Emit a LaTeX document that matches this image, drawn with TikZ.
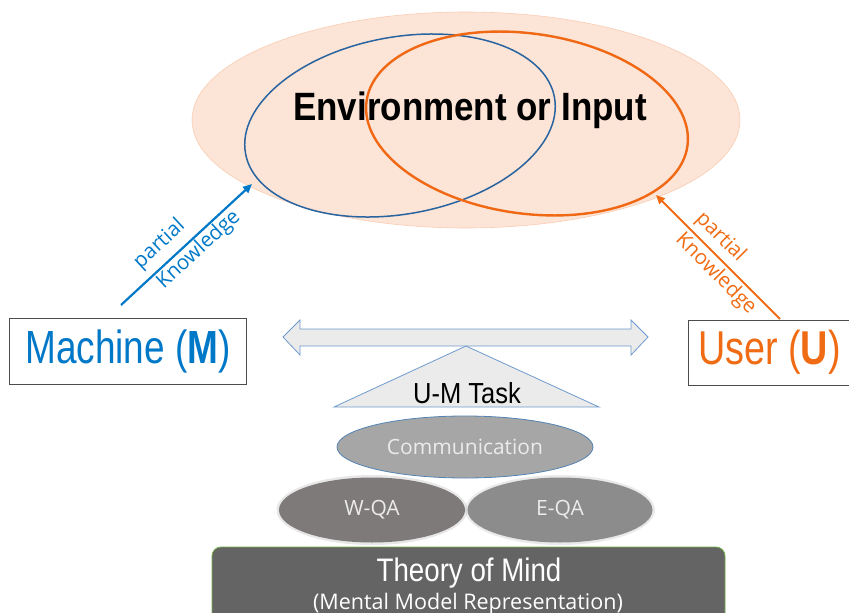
\documentclass[tikz,border=0pt]{standalone}
\usepackage{fontspec}
\setmainfont{Liberation Sans}
\newfontfamily\envfont[FakeStretch=0.885]{Liberation Sans}
\newfontfamily\actorfont[FakeStretch=0.795]{Liberation Sans}
\newfontfamily\taskfont[FakeStretch=0.88]{Liberation Sans}
\newfontfamily\tomfont[FakeStretch=0.85]{Liberation Sans}
\newfontfamily\segfont{Open Sans}
\usetikzlibrary{arrows.meta,shapes.geometric}
\definecolor{pinkfill}{RGB}{252,228,214}
\definecolor{pinkline}{RGB}{249,205,180}
\definecolor{venblue}{RGB}{40,100,160}
\definecolor{venorange}{RGB}{240,104,20}
\definecolor{mblue}{RGB}{0,120,200}
\definecolor{uorange}{RGB}{240,108,20}
\definecolor{lightgr}{RGB}{235,235,235}
\definecolor{edgeblue}{RGB}{110,155,205}
\definecolor{commgray}{RGB}{166,166,166}
\definecolor{wqagray}{RGB}{127,122,122}
\definecolor{eqagray}{RGB}{140,140,140}
\definecolor{tomgray}{RGB}{100,100,100}
\definecolor{tomedge}{RGB}{112,173,71}
\begin{document}
\begin{tikzpicture}[x=1pt,y=-1pt,
  lbl/.style={font=\segfont\fontsize{20.5}{22}\selectfont, inner sep=2pt},
  actorbox/.style={draw=black!70, line width=0.8pt, fill=white, inner sep=0pt},
  blob/.style={ellipse, inner sep=0pt, text=white!92!black,
    font=\segfont\fontsize{21}{24}\selectfont},
  halo/.style={ellipse, inner sep=0pt, opacity=0.18},
  karrow/.style={line width=2.2pt},
]
\useasboundingbox (0,0) rectangle (849,613);

% environment
\fill[pinkfill, draw=pinkline, line width=0.6pt] (466,120) ellipse [x radius=274, y radius=108];
\draw[venblue, line width=1.5pt, rotate around={10.3:(400,125.5)}] (400,125.5) ellipse [x radius=157, y radius=88.5];
\draw[venorange, line width=2.4pt, rotate around={-8:(527,123.5)}] (527,123.5) ellipse [x radius=162, y radius=90];
\node[anchor=base, inner sep=0pt, font=\envfont\bfseries\fontsize{39.5}{44}\selectfont] (env) at (470,120) {Environment or Input};

% actors
\node[actorbox, minimum width=237pt, minimum height=66pt, text=mblue,
  font=\actorfont\fontsize{46.5}{52}\selectfont] (machine) at (128,351) {Machine (\textbf{M})};
\node[actorbox, minimum width=163pt, minimum height=65pt, text=uorange,
  font=\actorfont\fontsize{47.5}{52}\selectfont] (user) at (769.5,352.5) {User (\textbf{U})};

% knowledge arrows
\coordinate (mstart) at (121,305);
\coordinate (mend) at (252,184);
\coordinate (ustart) at (780,319);
\coordinate (uend) at (656,195);
\draw[karrow, mblue, -{Triangle[length=9pt,width=8pt]}] (mstart) -- (mend)
  node[lbl, text=mblue, pos=0.39, sloped, above=5pt] {partial}
  node[lbl, text=mblue, pos=0.53, sloped, below=-1pt] {Knowledge};
\draw[karrow, uorange, line width=2pt, {Triangle[length=9pt,width=8pt]}-] (uend) -- (ustart)
  node[lbl, text=uorange, pos=0.43, sloped, above=2.5pt] {partial}
  node[lbl, text=uorange, pos=0.56, sloped, below=0.5pt] {Knowledge};

% double arrow (balance beam)
\draw[fill=lightgr, draw=edgeblue, line width=0.8pt]
  (283,337) -- (300,320) -- (300,329) -- (631,329) -- (631,320) -- (648,337)
  -- (631,355) -- (631,346) -- (300,346) -- (300,355) -- cycle;

% triangle
\coordinate (tapex) at (466,346);
\coordinate (tleft) at (334,407);
\coordinate (tright) at (599,407);
\draw[fill=lightgr, draw=edgeblue, line width=0.8pt] (tapex) -- (tright) -- (tleft) -- cycle;
\node[anchor=base, inner sep=0pt, font=\taskfont\fontsize{29}{32}\selectfont] (task) at (467,403.3) {U-M Task};

% stack
\node[blob, fill=commgray, draw=venblue!80, line width=0.8pt, minimum width=256pt, minimum height=62pt] (comm) at (465,447) {Communication};
\node[halo, fill=wqagray, minimum width=191pt, minimum height=70pt] (wqah) at (372,510) {};
\node[halo, fill=eqagray, minimum width=190pt, minimum height=70pt] (eqah) at (560,510) {};
\node[blob, fill=wqagray, minimum width=186pt, minimum height=65pt] (wqa) at (372,510) {W-QA};
\node[blob, fill=eqagray, minimum width=185pt, minimum height=65pt] (eqa) at (560,510) {E-QA};

\draw[fill=tomgray, draw=tomedge, line width=0.8pt, rounded corners=9pt] (212,547) rectangle (725,630);
\node[anchor=base, inner sep=0pt, text=white, font=\tomfont\fontsize{32.6}{36}\selectfont] (tom) at (469,581.7) {Theory of Mind};
\node[anchor=base, inner sep=0pt, text=white, font=\segfont\fontsize{21.5}{24}\selectfont] (tomsub) at (468,609.5) {(Mental Model Representation)};
\end{tikzpicture}
\end{document}
